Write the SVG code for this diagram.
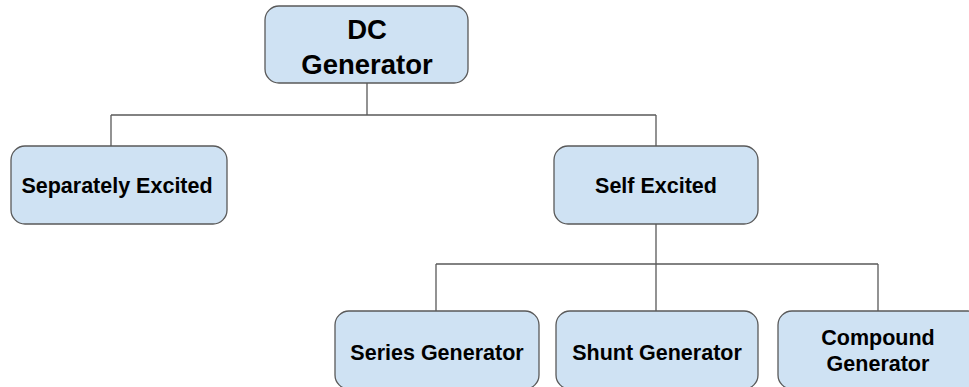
<svg xmlns="http://www.w3.org/2000/svg" width="969" height="387" viewBox="0 0 969 387">
<style>
.box{fill:#cfe2f3;stroke:#595959;stroke-width:1.3}
.t{font-family:"Liberation Sans",Arial,sans-serif;font-weight:bold;fill:#000;text-anchor:middle}
.s{font-size:21.5px}
.b{font-size:27.5px}
.c{fill:none;stroke:#595959;stroke-width:1.3}
</style>
<rect width="969" height="387" fill="#fff"/>
<g id="connectors">
<path class="c" d="M367 83V115M111 115H656M111 115V146M656 115V146"/>
<path class="c" d="M656 224V264M436 264H878M436 264V311M656 264V311M878 264V311"/>
</g>
<g id="dc"><rect class="box" x="265" y="6" width="203" height="77" rx="14"/>
<text class="t b" x="367" y="39">DC</text><text class="t b" x="367" y="74">Generator</text></g>
<g id="separately"><rect class="box" x="11" y="146" width="216" height="78" rx="14"/>
<text class="t s" x="117" y="193">Separately Excited</text></g>
<g id="self"><rect class="box" x="554" y="146" width="204" height="78" rx="14"/>
<text class="t s" x="656" y="193">Self Excited</text></g>
<g id="series"><rect class="box" x="335" y="311" width="204" height="78" rx="14"/>
<text class="t s" x="437" y="360">Series Generator</text></g>
<g id="shunt"><rect class="box" x="556" y="311" width="202" height="78" rx="14"/>
<text class="t s" x="657" y="360">Shunt Generator</text></g>
<g id="compound"><rect class="box" x="778" y="311" width="204" height="78" rx="14"/>
<text class="t s" x="878" y="345">Compound</text><text class="t s" x="878" y="371">Generator</text></g>
</svg>
